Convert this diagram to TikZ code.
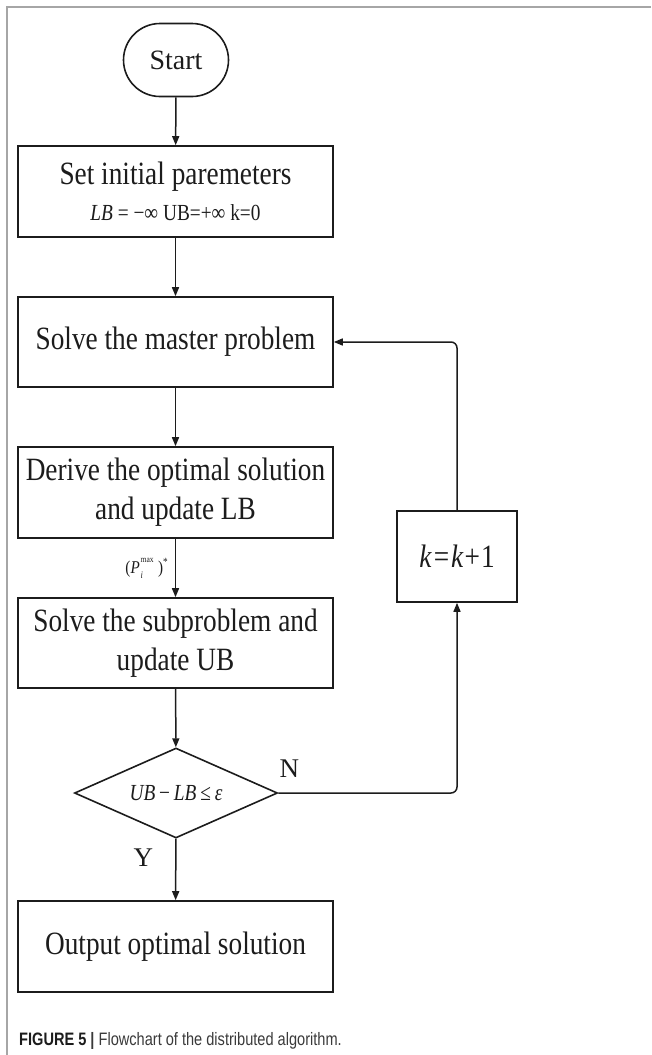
\documentclass[tikz,border=0pt]{standalone}
\usepackage{fontspec}
\setmainfont[FakeStretch=0.84]{Liberation Serif}
\newfontfamily\plainserif{Liberation Serif}
\newfontfamily\capfont[FakeStretch=0.81]{Liberation Sans}
\usetikzlibrary{arrows.meta,shapes.geometric,shapes.misc,calc}
\definecolor{linec}{HTML}{1C1C1C}
\definecolor{framec}{HTML}{A6A6A6}
\definecolor{capc}{HTML}{3A3A3A}
% P with stacked sub- and superscript, kept apart
\newcommand{\pmaxlabel}{(\textit{P}\kern1pt\rlap{\raisebox{11pt}{\fontsize{9}{9}\selectfont max}}%
  \raisebox{-5pt}{\fontsize{10}{10}\selectfont\textit{i}}\hphantom{\fontsize{9}{9}\selectfont max}\kern2pt)%
  \raisebox{8pt}{\fontsize{11}{11}\selectfont *}}
\begin{document}
\begin{tikzpicture}[x=1pt,y=-1pt,
  every node/.style={text=linec},
  procbox/.style={draw=linec, line width=1.6pt, rectangle, minimum width=315pt,
    inner sep=0pt, align=center, font=\fontsize{32.5}{39}\selectfont},
  flow/.style={draw=linec, line width=1.5pt, -{Triangle[length=9pt,width=7pt]}},
  lbl/.style={font=\plainserif\fontsize{27}{30}\selectfont, inner sep=0pt}]
\useasboundingbox (0,0) rectangle (651,1055);

% page frame
\draw[framec, line width=2pt] (651,7) -- (7,7) -- (7,1055);

% flow nodes
\node[draw=linec, line width=1.6pt, rounded rectangle, minimum width=105pt,
  minimum height=73pt, inner sep=0pt, font=\plainserif\fontsize{28}{34}\selectfont]
  (start) at (176,60) {Start};
\node[procbox, minimum height=91pt] (init) at (175.5,191.5)
  {Set initial paremeters\\[-3pt]
   {\fontsize{23}{26}\selectfont \textit{LB} = −∞ UB=+∞ k=0}};
\node[procbox, minimum height=90pt] (master) at (175.5,342) {Solve the master problem};
\node[procbox, minimum height=91pt] (derive) at (175.5,492.5)
  {Derive the optimal solution\\and update LB};
\node[procbox, minimum height=90pt] (sub) at (175.5,643)
  {Solve the subproblem and\\update UB};
\node[draw=linec, line width=1.6pt, diamond, aspect=2.26, minimum width=203pt,
  minimum height=90pt, inner sep=0pt, font=\fontsize{23}{26}\selectfont]
  (check) at (176,793) {\textit{UB}\,−\,\textit{LB}\,≤\,\textit{ε}};
\node[procbox, minimum height=91pt] (out) at (175.5,946.5) {Output optimal solution};
\node[procbox, minimum width=120pt, minimum height=91pt] (inc) at (457,556.5)
  {\textit{k}\kern2pt=\kern2pt\textit{k}\kern1pt+\kern1pt1};

% connectors
\draw[flow] (start) -- (init);
\draw[flow] (init) -- (master);
\draw[flow] (master) -- (derive);
\draw[flow] (derive) -- node[midway, left=7pt, font=\fontsize{18}{22}\selectfont, inner sep=0pt]
  {\pmaxlabel} (sub);
\draw[flow] (sub) -- (check);
\draw[flow] (check) -- node[pos=0.3, left=22pt, lbl] {Y} (out);
\draw[flow, rounded corners=6pt] (check.east) -| (inc.south);
\draw[flow, rounded corners=6pt] (inc.north) |- (master.east);
\node[lbl] (nlab) at ($(check.east)+(11,-24)$) {N};

% caption
\node[anchor=base west, inner sep=0pt, text=capc,
  font=\capfont\fontsize{18}{20}\selectfont] (caption) at (19,1045)
  {{\color{linec}\textbf{FIGURE 5}} \textbf{|} Flowchart of the distributed algorithm.};
\end{tikzpicture}
\end{document}
